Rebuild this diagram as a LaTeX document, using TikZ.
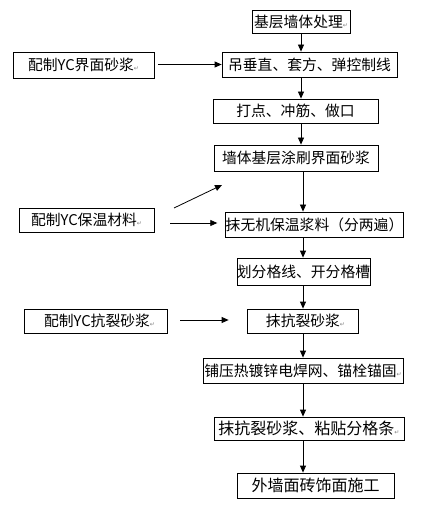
\documentclass[tikz,border=0pt]{standalone}
\usepackage{fontspec}
\newfontfamily\cjk{Noto Sans CJK SC}
\newfontfamily\symfont{DejaVu Sans}
\usetikzlibrary{arrows.meta}
\newcommand{\pmark}{{\symfont\fontsize{6}{6}\selectfont\color{gray}↵}}
\tikzset{
  box/.style={draw=black, line width=0.8pt, inner sep=0pt, font=\cjk\fontsize{14.8}{15}\selectfont},
  bigbox/.style={box, font=\cjk\fontsize{16}{17}\selectfont},
  arr/.style={line width=0.8pt, -{Triangle[length=7pt,width=6pt]}}
}
\begin{document}
\begin{tikzpicture}[x=1pt,y=-1pt]
\useasboundingbox (0,0) rectangle (443,518);
\node[box, minimum width=98pt, minimum height=23pt] (b1) at (301,21.5) {基层墙体处理\pmark};
\node[box, minimum width=175pt, minimum height=25pt] (b2) at (309.5,64.5) {吊垂直、套方、弹控制线};
\node[box, minimum width=141pt, minimum height=26pt] (L1) at (83.5,65) {配制YC界面砂浆\pmark};
\node[box, minimum width=165pt, minimum height=24pt] (b3) at (295.5,111) {打点、冲筋、做口};
\node[box, minimum width=164pt, minimum height=26pt] (b4) at (296,158) {墙体基层涂刷界面砂浆};
\node[box, minimum width=177pt, minimum height=25pt] (b5) at (314.5,224.5) {抹无机保温浆料（分两遍）};
\node[box, minimum width=135pt, minimum height=24pt] (L2) at (86.5,220) {配制YC保温材料\pmark\hspace{12pt}};
\node[box, minimum width=133pt, minimum height=27pt] (b6) at (303.5,271.5) {划分格线、开分格槽};
\node[box, minimum width=111pt, minimum height=24pt] (b7) at (302.5,321) {\hspace{6pt}抹抗裂砂浆\pmark};
\node[box, minimum width=143pt, minimum height=24pt] (L3) at (95.5,321) {\hspace{8pt}配制YC抗裂砂浆\pmark};
\node[box, minimum width=200pt, minimum height=25pt] (b8) at (303,370.5) {铺压热镀锌电焊网、锚栓锚固\pmark};
\node[bigbox, minimum width=190pt, minimum height=23pt] (b9) at (309,428.5) {抹抗裂砂浆、粘贴分格条\pmark};
\node[bigbox, minimum width=157pt, minimum height=25pt] (b10) at (315.5,485.5) {外墙面砖饰面施工};
\coordinate (cx) at (301,0);
\coordinate (cy) at (303,0);
\coordinate (d1) at (174,208);
\coordinate (d2) at (222,185);
\draw[arr] (b1.south -| cx) -- (b2.north -| cx);
\draw[arr] (b2.south -| cx) -- (b3.north -| cx);
\draw[arr] (b3.south -| cx) -- (b4.north -| cx);
\draw[arr] (b4.south -| cy) -- (b5.north -| cy);
\draw[arr] (b5.south -| cy) -- (b6.north -| cy);
\draw[arr] (b6.south -| cy) -- (b7.north -| cy);
\draw[arr] (b7.south -| cy) -- (b8.north -| cy);
\draw[arr] (b8.south -| cy) -- (b9.north -| cy);
\draw[arr] (b9.south -| cy) -- (b10.north -| cy);
\draw[arr] ([xshift=4pt]L1.east |- b2.west) -- (b2.west);
\draw[arr] (d1) -- (d2);
\draw[arr] ([xshift=16pt]L2.east |- 0,223) -- ([xshift=-8pt]b5.west |- 0,223);
\draw[arr] ([xshift=13pt]L3.east |- 0,320) -- ([xshift=-18pt]b7.west |- 0,320);
\end{tikzpicture}
\end{document}
